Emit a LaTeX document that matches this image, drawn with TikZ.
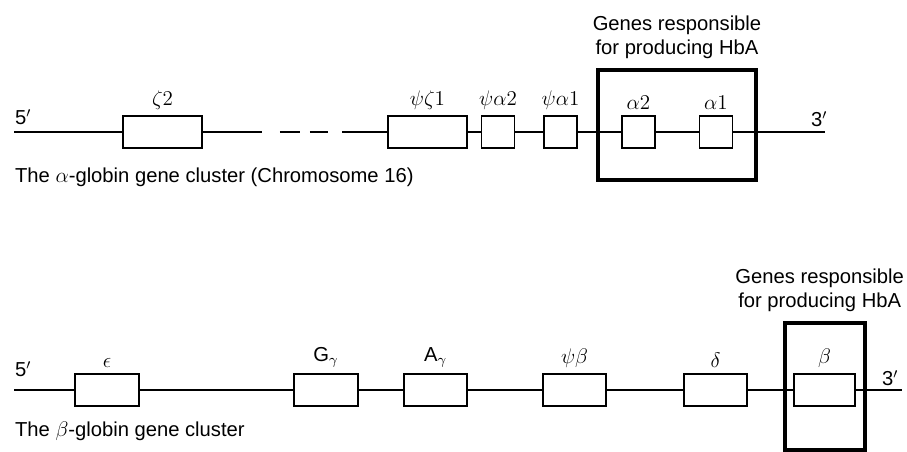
\documentclass[tikz,border=0pt]{standalone}
\usepackage{fontspec}
\setmainfont{Liberation Sans}
\usetikzlibrary{positioning}

\begin{document}
\begin{tikzpicture}[
    x=0.02cm, y=-0.02cm,
    node distance=4pt,
    tag/.style={font=\fontsize{11.5}{14}\selectfont, inner sep=1pt},
    gene/.style={draw, line width=1pt, fill=white, inner sep=0pt, minimum height=0.65cm},
    genewide/.style={gene, minimum width=1.58cm},
    genemid/.style={gene, minimum width=1.27cm},
    genesmall/.style={gene, minimum width=0.66cm},
    hba/.style={draw, line width=2pt, inner sep=0pt},
    dna/.style={line width=0.8pt},
    every label/.style={tag, label distance=2pt}
]
    \useasboundingbox (0,0) rectangle (907,452);

    % alpha cluster
    \node[hba, minimum width=3.16cm, minimum height=2.2cm] (boxA) at (677,125) {};
    \node[tag, align=center, above=of boxA] (noteA) {Genes responsible\\for producing HbA};

    \coordinate (startA) at (14,132);
    \coordinate (gapL)   at (262,132);
    \coordinate (gapR)   at (342,132);
    \coordinate (endA)   at (825,132);

    \node[genewide,  label=above:$\zeta2$]         (z2)  at (162.5,132) {};
    \node[genewide,  label=above:$\psi\zeta1$]     (pz1) at (427.5,132) {};
    \node[genesmall, label=above:$\psi\alpha2$]    (pa2) at (498,132)   {};
    \node[genesmall, label=above:$\psi\alpha1$]    (pa1) at (560.5,132) {};
    \node[genesmall, label=above:$\alpha2$]        (a2)  at (638.5,132) {};
    \node[genesmall, label=above:$\alpha1$]        (a1)  at (716,132)   {};

    \draw[dna] (startA) -- (z2.west)
               (z2.east) -- (gapL)
               (gapR) -- (pz1.west)
               (pz1.east) -- (pa2.west)
               (pa2.east) -- (pa1.west)
               (pa1.east) -- (a2.west)
               (a2.east) -- (a1.west)
               (a1.east) -- (endA);
    \draw[dna, dash pattern=on 0pt off 10.2pt on 11.3pt off 5.7pt on 10.2pt off 7.9pt] (gapL) -- (gapR);

    \node[tag, anchor=base west] (p5A) at (13,125) {5$'$};
    \node[tag, anchor=base west] (p3A) at (809,127) {3$'$};
    \node[tag, anchor=base west] (capA) at (13,183) {The $\alpha$-globin gene cluster (Chromosome 16)};

    % beta cluster
    \node[hba, minimum width=1.6cm, minimum height=2.54cm] (boxB) at (825,386.5) {};
    \node[tag, align=center, above=of boxB, xshift=-3pt] (noteB) {Genes responsible\\for producing HbA};

    \coordinate (startB) at (14,390);
    \coordinate (endB)   at (902,390);

    \node[genemid, label=above:$\epsilon$]         (eps)   at (107,390)   {};
    \node[genemid, label=above:G$_\gamma$]         (gG)    at (326,390)   {};
    \node[genemid, label=above:A$_\gamma$]         (gA)    at (435.5,390) {};
    \node[genemid, label=above:$\psi\beta$]        (pb)    at (574.5,390) {};
    \node[genemid, label=above:$\delta$]           (del)   at (715.5,390) {};
    \node[gene, minimum width=1.22cm, label=above:$\beta$] (bet) at (824.5,390) {};

    \draw[dna] (startB) -- (eps.west)
               (eps.east) -- (gG.west)
               (gG.east) -- (gA.west)
               (gA.east) -- (pb.west)
               (pb.east) -- (del.west)
               (del.east) -- (bet.west)
               (bet.east) -- (endB);

    \node[tag, anchor=base west] (p5B) at (13,377) {5$'$};
    \node[tag, anchor=base west] (p3B) at (880,386) {3$'$};
    \node[tag, anchor=base west] (capB) at (13,437) {The $\beta$-globin gene cluster};
\end{tikzpicture}
\end{document}
